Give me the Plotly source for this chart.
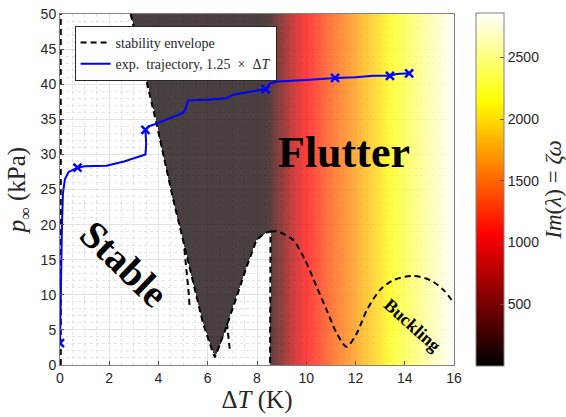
import numpy as np
import plotly.graph_objects as go

# ---------------- data ----------------
# stability envelope: line along the p-axis
env_left_x = [0.03, 0.03]
env_left_y = [0, 50]
# main envelope: diagonal boundary, V-shaped tongue, pocket and vertical edge
env_main_x = [2.87, 3.37, 3.92, 4.55, 5.0, 5.41, 5.81, 6.22, 6.29, 6.5, 6.76, 7.17, 7.58, 7.98, 8.32, 8.55, 8.53]
env_main_y = [50, 42.5, 34.4, 24.3, 17.8, 11.6, 5.9, 1.67, 1.1, 3.0, 5.46, 9.7, 14.0, 17.8, 18.8, 19.0, 0]
# small inner branches of the envelope
branch1_x = [5.05, 5.15, 5.22, 5.27]
branch1_y = [16.5, 13.5, 10.5, 8.0]
branch2_x = [6.78, 6.83, 6.88, 6.9]
branch2_y = [6.0, 4.5, 3.0, 2.0]
# buckling branch of the envelope
buck_x = [8.55, 8.78, 9.0, 9.47, 9.95, 10.42, 10.83, 11.24, 11.64, 12.05, 12.46, 13.0, 13.54, 14.35, 15.03, 15.57, 16.0]
buck_y = [19.0, 19.05, 18.8, 17.8, 14.96, 11.15, 7.83, 4.5, 2.6, 4.5, 7.83, 10.7, 12.1, 12.7, 12.1, 10.7, 8.8]

# experimental trajectory
traj_x = [0.0, 0.02, 0.04, 0.08, 0.12, 0.2, 0.35, 0.71, 1.0, 1.89, 2.6, 3.47, 3.5, 3.47, 3.6, 3.85, 4.5, 5.0,
          5.1, 5.2, 6.0, 6.76, 7.03, 7.7, 8.35, 8.52, 8.86, 10.0, 11.17, 12.0, 12.72, 13.4, 13.67, 14.18]
traj_y = [3.1, 8.0, 15.0, 20.0, 24.5, 26.5, 27.5, 28.1, 28.3, 28.4, 29.0, 30.0, 31.5, 33.5, 34.0, 34.3, 35.2, 35.9,
          36.5, 37.7, 37.8, 38.0, 38.5, 38.9, 39.3, 40.1, 40.4, 40.6, 40.9, 41.0, 41.2, 41.2, 41.45, 41.55]
mark_x = [0.0, 0.71, 3.47, 8.35, 11.17, 13.4, 14.18]
mark_y = [3.1, 28.1, 33.5, 39.3, 40.9, 41.2, 41.55]

# Im(lambda) profile across Delta T (flutter region colour)
heat_dT = [0.0, 8.3, 8.6, 9.0, 9.5, 10.0, 11.0, 12.0, 13.0, 13.5, 14.5, 16.0]
heat_Im = [50, 60, 200, 480, 800, 1060, 1400, 1700, 2000, 2170, 2450, 2850]

x_ticks = [0, 2, 4, 6, 8, 10, 12, 14, 16]
y_ticks = [0, 5, 10, 15, 20, 25, 30, 35, 40, 45, 50]
cb_ticks = [500, 1000, 1500, 2000, 2500]

# ---------------- build the flutter field ----------------
poly_x = [2.87] + env_main_x + [8.53, 16.5, 16.5]
poly_y = [51.0] + env_main_y + [-1.0, -1.0, 51.0]

nx, ny = 400, 350
xs = (np.arange(nx) + 0.5) * 16 / nx
ys = (np.arange(ny) + 0.5) * 50 / ny
X, Y = np.meshgrid(xs, ys)


def inside_poly(px, py, vx, vy):
    vx = np.asarray(vx, float)
    vy = np.asarray(vy, float)
    res = np.zeros(px.shape, bool)
    n = len(vx)
    j = n - 1
    for i in range(n):
        xi, yi, xj, yj = vx[i], vy[i], vx[j], vy[j]
        cond = ((yi > py) != (yj > py))
        with np.errstate(divide="ignore", invalid="ignore"):
            xint = (xj - xi) * (py - yi) / (yj - yi) + xi
        res ^= cond & (px < xint)
        j = i
    return res


mask = inside_poly(X, Y, poly_x, poly_y)
Z = np.interp(X, heat_dT, heat_Im)
Z = np.where(mask, np.round(Z), np.nan)

hot = [[0.0, "rgb(0,0,0)"], [0.375, "rgb(255,0,0)"], [0.75, "rgb(255,255,0)"], [1.0, "rgb(255,255,255)"]]

serif = "Liberation Serif, Times New Roman, serif"
sans = "Liberation Sans, Arial, sans-serif"

fig = go.Figure()

fig.add_trace(go.Heatmap(
    x=xs, y=ys, z=Z, colorscale=hot, zmin=0, zmax=2860, opacity=0.75,
    hoverinfo="skip", showlegend=False,
    colorbar=dict(
        x=1.056, xanchor="left", xpad=0, y=0.5, yanchor="middle", ypad=0, len=1.005, lenmode="fraction",
        thickness=28, outlinewidth=1, outlinecolor="#808080",
        tickvals=cb_ticks, ticks="inside", ticklen=4, tickcolor="#555555",
        tickfont=dict(family=sans, size=14, color="#262626"),
        title=dict(text="<i>Im</i>(<i>λ</i>) = <i>ζω</i>", side="right",
                   font=dict(family=serif, size=23, color="#262626")),
    ),
))

dash = "6px,4px"
env_x = env_left_x + [None] + env_main_x + [None] + branch1_x + [None] + branch2_x
env_y = env_left_y + [None] + env_main_y + [None] + branch1_y + [None] + branch2_y
fig.add_trace(go.Scatter(
    x=env_x, y=env_y, mode="lines", name="stability envelope",
    line=dict(color="black", width=2, dash=dash), legendgroup="env", hoverinfo="skip",
))
fig.add_trace(go.Scatter(
    x=buck_x, y=buck_y, mode="lines", showlegend=False, legendgroup="env",
    line=dict(color="black", width=2, dash=dash, shape="spline", smoothing=0.8), hoverinfo="skip",
))
fig.add_trace(go.Scatter(
    x=traj_x, y=traj_y, mode="lines",
    name="exp.&nbsp; trajectory, 1.25&nbsp;&nbsp;×&nbsp;&nbsp;Δ<i>T</i>",
    line=dict(color="rgb(0,0,255)", width=2), hoverinfo="skip",
))
fig.add_trace(go.Scatter(
    x=mark_x, y=mark_y, mode="markers", showlegend=False,
    marker=dict(symbol="x-thin", size=8, line=dict(color="rgb(0,0,255)", width=2.5)), hoverinfo="skip",
))

fig.add_annotation(x=11.55, y=30.3, text="<b>Flutter</b>", showarrow=False,
                   font=dict(family=serif, size=44, color="black"))
fig.add_annotation(x=2.6, y=14.4, text="<b>Stable</b>", showarrow=False, textangle=44,
                   font=dict(family=serif, size=39, color="black"))
fig.add_annotation(x=14.3, y=5.7, text="<b>Buckling</b>", showarrow=False, textangle=42,
                   font=dict(family=serif, size=18, color="black"))

axis_common = dict(
    ticks="inside", ticklen=4, tickcolor="#555555", showline=True, mirror=True,
    linecolor="#808080", linewidth=1, showgrid=True, gridcolor="#e3e3e3", gridwidth=1,
    zeroline=False, tickfont=dict(family=sans, size=14, color="#262626"), automargin=False,
)

fig.update_xaxes(
    range=[0, 16], tickvals=x_ticks, **axis_common,
    minor=dict(dtick=0.5, showgrid=True, gridcolor="#e3e3e3", griddash="dot", ticks=""),
    title=dict(text="Δ<i>T</i> (K)", font=dict(family=serif, size=25, color="#262626"), standoff=2),
)
fig.update_yaxes(
    range=[0, 50], tickvals=y_ticks, **axis_common,
    minor=dict(dtick=1, showgrid=True, gridcolor="#e3e3e3", griddash="dot", ticks=""),
    title=dict(text="<i>p</i><sub>∞</sub> (kPa)", font=dict(family=serif, size=25, color="#262626"), standoff=7),
)

fig.update_layout(
    width=566, height=417,
    margin=dict(l=60, r=112, t=14, b=52, autoexpand=False),
    paper_bgcolor="white", plot_bgcolor="white",
    legend=dict(x=0.037, y=0.966, xanchor="left", yanchor="top", bgcolor="white",
                bordercolor="#262626", borderwidth=1, itemwidth=30, tracegroupgap=0,
                font=dict(family=serif, size=14, color="#262626")),
)

fig.write_html("out.html", config={"displayModeBar": False},
               post_script="document.body.style.margin='0px';")
